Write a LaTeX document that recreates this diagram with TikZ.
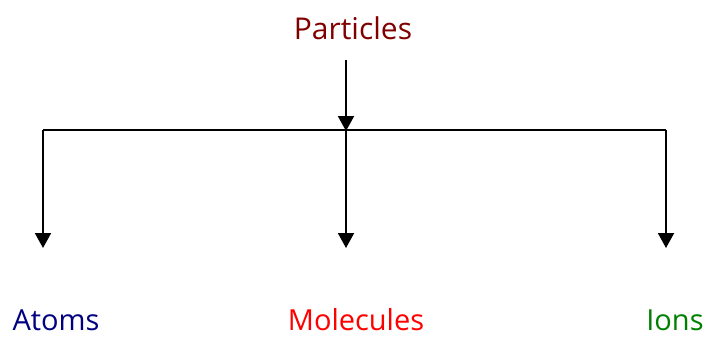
\documentclass[tikz,border=0pt]{standalone}
\usepackage{fontspec}
\setmainfont{Open Sans}
\usetikzlibrary{arrows.meta}
\definecolor{pdark}{RGB}{128,0,0}
\definecolor{anavy}{RGB}{0,0,128}
\definecolor{mred}{RGB}{255,0,0}
\definecolor{igreen}{RGB}{0,128,0}
\begin{document}
\begin{tikzpicture}[x=1pt,y=-1pt,
  lbl/.style={font=\fontsize{29}{33}\selectfont, inner sep=0pt, anchor=base},
  conn/.style={line width=2pt},
  arr/.style={conn, -{Triangle[length=15pt,width=16pt]}}]
\useasboundingbox (0,0) rectangle (709,337);
\node[lbl, text=pdark, font=\fontsize{30}{34}\selectfont] (p) at (353,40) {Particles};
\node[lbl, text=anavy] (a) at (56,330) {Atoms};
\node[lbl, text=mred] (m) at (356,330) {Molecules};
\node[lbl, text=igreen] (i) at (675,330) {Ions};
\coordinate (top) at (346,60);
\coordinate (j) at (346,131);
\coordinate (cl) at (43,130);
\coordinate (cr) at (666,130);
\coordinate (el) at (43,248);
\coordinate (em) at (346,248);
\coordinate (er) at (666,248);
\draw[conn] (cl) -- (cr);
\draw[arr] (top) -- (j);
\draw[arr] (cl) -- (el);
\draw[arr] (j) -- (em);
\draw[arr] (cr) -- (er);
\end{tikzpicture}
\end{document}
